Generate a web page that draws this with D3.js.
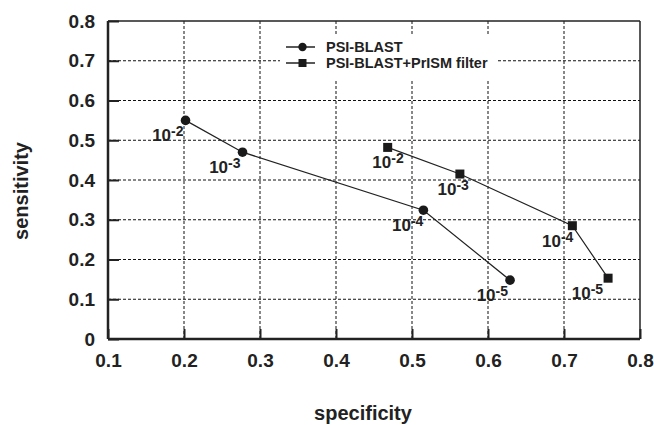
<!DOCTYPE html>
<html>
<head>
<meta charset="utf-8">
<script src="https://cdn.jsdelivr.net/npm/d3@7"></script>
<style>
  body { margin: 0; background: #fff; }
  text { font-family: "Liberation Sans", Arial, sans-serif; font-weight: bold; fill: #222; }
</style>
</head>
<body>
<svg class="chart"></svg>
<script>
// data
var seriesNames = ["PSI-BLAST", "PSI-BLAST+PrISM filter"];
var blastSpec = [0.202, 0.277, 0.515, 0.629],
    blastSens = [0.550, 0.470, 0.324, 0.148];
var prismSpec = [0.468, 0.563, 0.711, 0.758],
    prismSens = [0.482, 0.415, 0.285, 0.153];
var evalueExp = ["-2", "-3", "-4", "-5"];
var xTicks = [0.1, 0.2, 0.3, 0.4, 0.5, 0.6, 0.7, 0.8],
    yTicks = [0, 0.1, 0.2, 0.3, 0.4, 0.5, 0.6, 0.7, 0.8];

var margin = {top: 21, right: 14, bottom: 86, left: 108},
    width = 654 - margin.left - margin.right,
    height = 425 - margin.top - margin.bottom;

var svg = d3.select(".chart")
    .attr("width", 654)
    .attr("height", 425)
  .append("g")
    .attr("transform", "translate(" + margin.left + "," + margin.top + ")");

var x = d3.scaleLinear().domain([0.1, 0.8]).range([0, width]),
    y = d3.scaleLinear().domain([0, 0.8]).range([height, 0]);

// dashed grid
svg.append("g").selectAll("line")
    .data(xTicks.slice(1, -1))
  .enter().append("line")
    .attr("x1", x).attr("x2", x)
    .attr("y1", 0).attr("y2", height)
    .attr("stroke", "#111").attr("stroke-width", 1)
    .attr("stroke-dasharray", "3,2");
svg.append("g").selectAll("line")
    .data(yTicks.slice(1, -1))
  .enter().append("line")
    .attr("y1", y).attr("y2", y)
    .attr("x1", 0).attr("x2", width)
    .attr("stroke", "#111").attr("stroke-width", 1)
    .attr("stroke-dasharray", "3,2");

// frame: top and right
svg.append("line").attr("x1", 0).attr("x2", width).attr("y1", 0).attr("y2", 0)
    .attr("stroke", "#222").attr("stroke-width", 1.5);
svg.append("line").attr("x1", width).attr("x2", width).attr("y1", 0).attr("y2", height)
    .attr("stroke", "#222").attr("stroke-width", 1.5);

// x-axis, ticks pointing inward
var xAxis = svg.append("g")
    .attr("transform", "translate(0," + height + ")");
xAxis.call(d3.axisBottom(x).tickValues(d3.range(0.1, 0.801, 0.05)).tickSize(-4).tickFormat(""));
xAxis.call(d3.axisBottom(x).tickValues(xTicks).tickSize(-10).tickPadding(15).tickFormat(d3.format(".1f")));
xAxis.selectAll(".domain").remove();
xAxis.selectAll("line").attr("stroke", "#222").attr("stroke-width", 2);
xAxis.selectAll("text").attr("font-size", 19).attr("fill", "#222");

// y-axis
var yAxis = svg.append("g");
yAxis.call(d3.axisLeft(y).tickValues(d3.range(0, 0.801, 0.05)).tickSize(-4).tickFormat(""));
yAxis.call(d3.axisLeft(y).tickValues(yTicks).tickSize(-11).tickPadding(13)
    .tickFormat(function(d) { return d === 0 ? "0" : d3.format(".1f")(d); }));
yAxis.selectAll(".domain").remove();
yAxis.selectAll("line").attr("stroke", "#222").attr("stroke-width", 2);
yAxis.selectAll("text").attr("font-size", 19).attr("fill", "#222");

svg.append("line").attr("x1", 0).attr("x2", width).attr("y1", height).attr("y2", height)
    .attr("stroke", "#222").attr("stroke-width", 2.5);
svg.append("line").attr("x1", 0).attr("x2", 0).attr("y1", 0).attr("y2", height)
    .attr("stroke", "#222").attr("stroke-width", 2.5);

// axis titles
svg.append("text")
    .attr("x", width / 2 - 11).attr("y", height + 81)
    .attr("text-anchor", "middle").attr("font-size", 20)
    .text("specificity");
svg.append("text")
    .attr("transform", "translate(" + (-80) + "," + (height / 2 + 11) + ") rotate(-90)")
    .attr("text-anchor", "middle").attr("font-size", 20)
    .text("sensitivity");

// series
var series = [
  {name: seriesNames[0], spec: blastSpec, sens: blastSens, shape: "circle"},
  {name: seriesNames[1], spec: prismSpec, sens: prismSens, shape: "square"}
];
// label placement: offset of label right edge from the point
var labelDx = [[-2, -2, 0, -2], [16, 9, 1, -5]];

var line = d3.line().x(function(d) { return x(d[0]); }).y(function(d) { return y(d[1]); });

series.forEach(function(s, si) {
  var pts = d3.zip(s.spec, s.sens);
  svg.append("path").datum(pts)
      .attr("d", line).attr("fill", "none")
      .attr("stroke", "#222").attr("stroke-width", 1.2);
  if (s.shape === "circle") {
    svg.selectAll(null).data(pts).enter().append("circle")
        .attr("cx", function(d) { return x(d[0]); })
        .attr("cy", function(d) { return y(d[1]); })
        .attr("r", 4.8).attr("fill", "#1a1a1a");
  } else {
    svg.selectAll(null).data(pts).enter().append("rect")
        .attr("x", function(d) { return x(d[0]) - 4.5; })
        .attr("y", function(d) { return y(d[1]) - 4.5; })
        .attr("width", 9).attr("height", 9).attr("fill", "#1a1a1a");
  }
  var lab = svg.selectAll(null).data(pts).enter().append("text")
      .attr("x", function(d, i) { return x(d[0]) + labelDx[si][i]; })
      .attr("y", function(d) { return y(d[1]) + 21; })
      .attr("text-anchor", "end")
      .attr("font-size", 17);
  lab.append("tspan").text("10");
  lab.append("tspan").attr("dy", -5).attr("font-size", 14)
      .text(function(d, i) { return evalueExp[i]; });
});

// legend
var legend = svg.append("g").attr("transform", "translate(" + (x(0.1) + 172) + "," + 15 + ")");
legend.append("rect").attr("x", 0).attr("y", 0).attr("width", 216).attr("height", 45).attr("fill", "#fff");
series.forEach(function(s, i) {
  var g = legend.append("g").attr("transform", "translate(6," + (11 + i * 16) + ")");
  g.append("line").attr("x1", 0).attr("x2", 29).attr("y1", 0).attr("y2", 0)
      .attr("stroke", "#222").attr("stroke-width", 1.5);
  if (s.shape === "circle") {
    g.append("circle").attr("cx", 16.5).attr("cy", 0).attr("r", 4.2).attr("fill", "#1a1a1a");
  } else {
    g.append("rect").attr("x", 12.5).attr("y", -4).attr("width", 8).attr("height", 8).attr("fill", "#1a1a1a");
  }
  g.append("text").attr("x", 40).attr("y", 5).attr("font-size", 14.5).text(s.name);
});
</script>
</body>
</html>
